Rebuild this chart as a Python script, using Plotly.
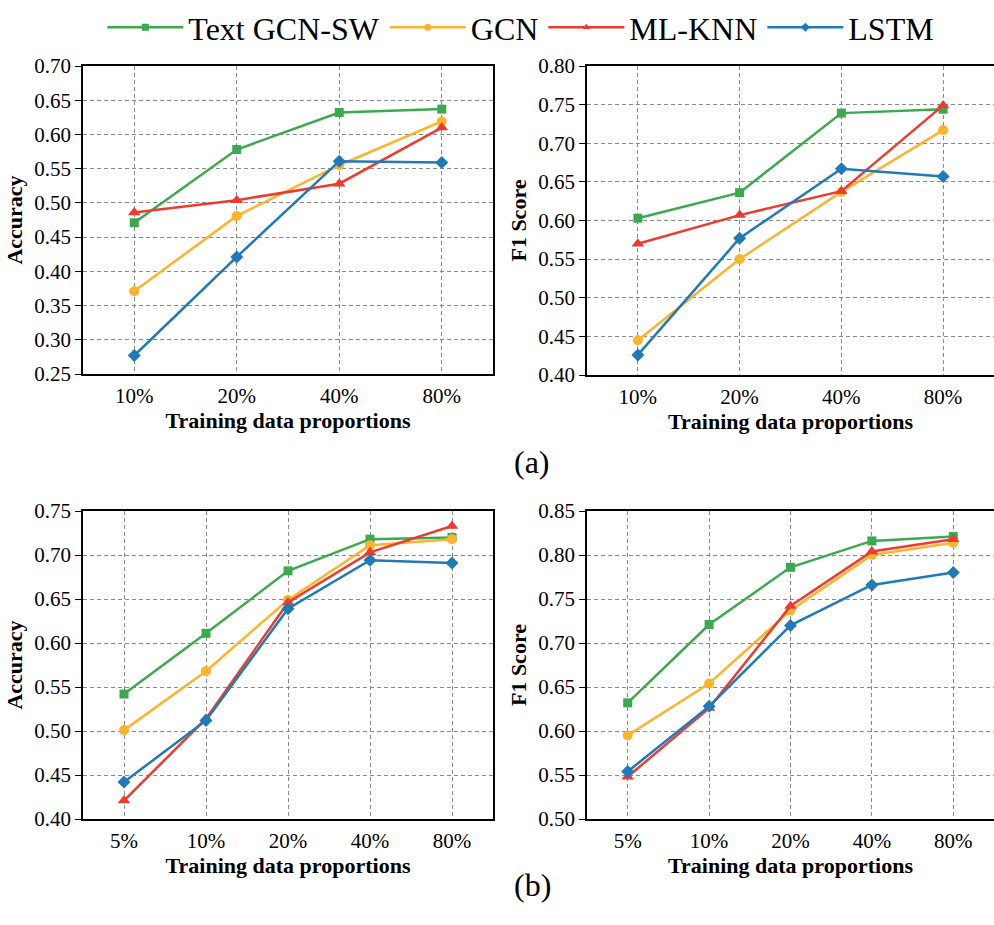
import plotly.graph_objects as go

W, H = 994, 925

series = ["Text GCN-SW", "GCN", "ML-KNN", "LSTM"]
colors = ["#3BAA4E", "#FCB42C", "#EE3B2F", "#1F7AB8"]
symbols = ["square", "circle", "triangle-up", "diamond"]
msizes = [9, 10, 11, 10]

cats_a = ["10%", "20%", "40%", "80%"]
cats_b = ["5%", "10%", "20%", "40%", "80%"]

# (a) accuracy
acc_a_textgcn = [0.471, 0.578, 0.632, 0.637]
acc_a_gcn = [0.371, 0.481, 0.555, 0.619]
acc_a_mlknn = [0.486, 0.504, 0.528, 0.610]
acc_a_lstm = [0.277, 0.421, 0.561, 0.559]
# (a) F1
f1_a_textgcn = [0.603, 0.636, 0.739, 0.744]
f1_a_gcn = [0.445, 0.550, 0.637, 0.717]
f1_a_mlknn = [0.570, 0.607, 0.638, 0.749]
f1_a_lstm = [0.426, 0.577, 0.667, 0.657]
# (b) accuracy
acc_b_textgcn = [0.542, 0.611, 0.682, 0.718, 0.720]
acc_b_gcn = [0.501, 0.568, 0.649, 0.711, 0.718]
acc_b_mlknn = [0.421, 0.514, 0.646, 0.703, 0.733]
acc_b_lstm = [0.442, 0.512, 0.639, 0.694, 0.691]
# (b) F1
f1_b_textgcn = [0.632, 0.721, 0.786, 0.816, 0.821]
f1_b_gcn = [0.595, 0.654, 0.737, 0.800, 0.814]
f1_b_mlknn = [0.548, 0.626, 0.742, 0.804, 0.818]
f1_b_lstm = [0.554, 0.628, 0.720, 0.766, 0.780]

panels = [
    dict(cats=cats_a, data=[acc_a_textgcn, acc_a_gcn, acc_a_mlknn, acc_a_lstm],
         yrange=[0.25, 0.70], dtick=0.05, ytitle="Accuracy",
         xdom=[83 / W, 493 / W], ydom=[1 - 374 / H, 1 - 66 / H], right=False),
    dict(cats=cats_a, data=[f1_a_textgcn, f1_a_gcn, f1_a_mlknn, f1_a_lstm],
         yrange=[0.40, 0.80], dtick=0.05, ytitle="F1 Score",
         xdom=[587 / W, 1.0], ydom=[1 - 375 / H, 1 - 66 / H], right=True),
    dict(cats=cats_b, data=[acc_b_textgcn, acc_b_gcn, acc_b_mlknn, acc_b_lstm],
         yrange=[0.40, 0.75], dtick=0.05, ytitle="Accuracy",
         xdom=[83 / W, 493 / W], ydom=[1 - 819 / H, 1 - 511 / H], right=False),
    dict(cats=cats_b, data=[f1_b_textgcn, f1_b_gcn, f1_b_mlknn, f1_b_lstm],
         yrange=[0.50, 0.85], dtick=0.05, ytitle="F1 Score",
         xdom=[587 / W, 1.0], ydom=[1 - 819 / H, 1 - 511 / H], right=True),
]

FONT = "Liberation Serif"
fig = go.Figure()
layout = dict(
    width=W, height=H, margin=dict(l=0, r=0, t=0, b=0, autoexpand=False),
    paper_bgcolor="white", plot_bgcolor="white",
    font=dict(family=FONT, color="black"),
    showlegend=True,
    legend=dict(orientation="h", x=0.524, xanchor="center", y=1.0, yanchor="top",
                font=dict(family=FONT, size=32, color="black"),
                itemwidth=76, bgcolor="rgba(0,0,0,0)", tracegroupgap=0),
)

for i, p in enumerate(panels):
    ax = "" if i == 0 else str(i + 1)
    xref, yref = "x" + ax, "y" + ax
    n = len(p["cats"])
    for k in range(4):
        fig.add_trace(go.Scatter(
            x=list(range(n)), y=p["data"][k], mode="lines+markers",
            name=series[k], showlegend=False,
            line=dict(color=colors[k], width=2.5),
            marker=dict(symbol=symbols[k], size=msizes[k], color=colors[k]),
            xaxis=xref, yaxis=yref))
    layout["xaxis" + ax] = dict(
        domain=p["xdom"], anchor=yref, range=[-0.5, n - 0.5],
        tickmode="array", tickvals=list(range(n)), ticktext=p["cats"],
        tickfont=dict(family=FONT, size=21, color="black"),
        ticks="", ticklabelstandoff=2,
        showgrid=True, gridcolor="#8a8a8a", griddash="4px,3px", gridwidth=1,
        showline=True, linecolor="black", linewidth=1.5, mirror=True,
        zeroline=False,
        title=dict(text="<b>Training data proportions</b>",
                   font=dict(family=FONT, size=22, color="black"), standoff=0),
    )
    layout["yaxis" + ax] = dict(
        domain=p["ydom"], anchor=xref, range=p["yrange"],
        tick0=0, dtick=p["dtick"], tickformat=".2f",
        tickfont=dict(family=FONT, size=21, color="black"),
        ticks="outside", ticklen=6, tickcolor="black", tickwidth=1,
        showgrid=True, gridcolor="#8a8a8a", griddash="4px,3px", gridwidth=1,
        showline=True, linecolor="black", linewidth=1.5,
        mirror=False if p["right"] else True,
        zeroline=False,
        title=dict(text="<b>" + p["ytitle"] + "</b>",
                   font=dict(family=FONT, size=22, color="black"), standoff=6),
    )

# legend entries
for k in range(4):
    fig.add_trace(go.Scatter(
        x=[None], y=[None], mode="lines+markers", name=series[k],
        line=dict(color=colors[k], width=2.5),
        marker=dict(symbol=symbols[k], size=7, color=colors[k]),
        showlegend=True, xaxis="x", yaxis="y"))

layout["annotations"] = [
    dict(text="(a)", x=532 / W, y=1 - 462 / H, xref="paper", yref="paper",
         showarrow=False, font=dict(family=FONT, size=32, color="black")),
    dict(text="(b)", x=532 / W, y=1 - 905 / H, xref="paper", yref="paper",
         showarrow=False, font=dict(family=FONT, size=32, color="black")),
]

fig.update_layout(**layout)
fig.write_html("out.html", config={"displayModeBar": False},
               post_script="document.body.style.margin='0';document.body.style.overflow='hidden';")
